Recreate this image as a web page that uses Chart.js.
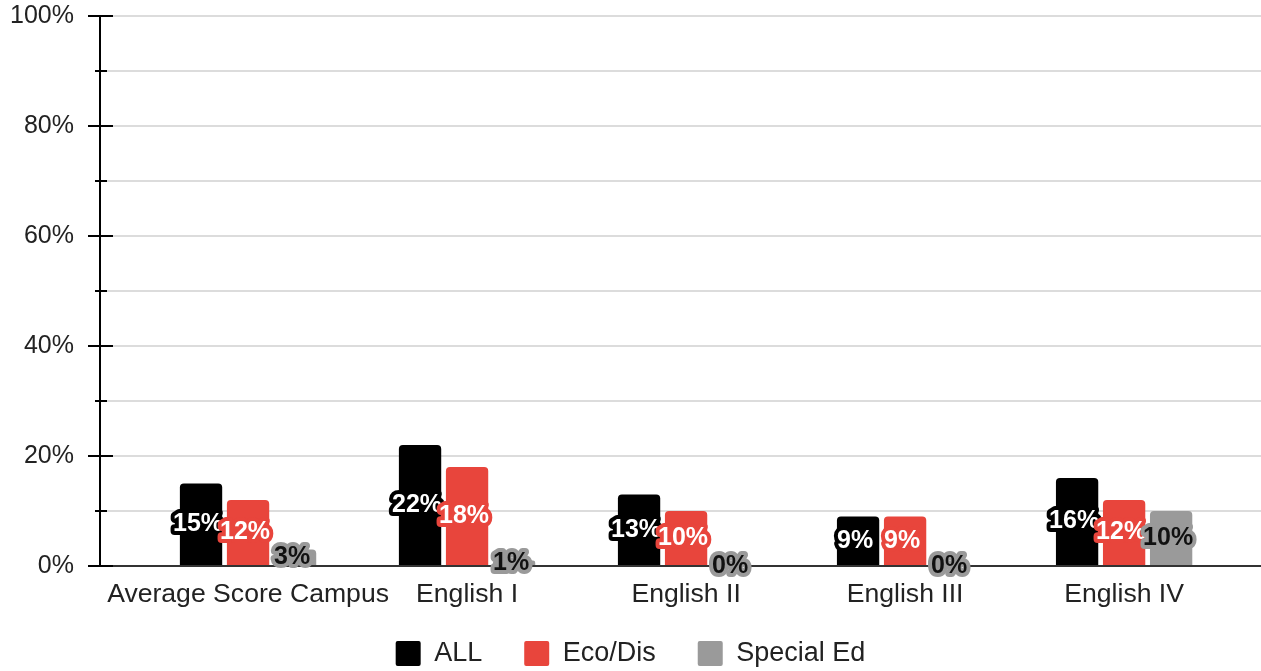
<!DOCTYPE html>
<html>
<head>
<meta charset="utf-8">
<script src="https://cdn.jsdelivr.net/npm/chart.js@4.4.1/dist/chart.umd.min.js"></script>
<style>
  html, body { margin: 0; padding: 0; background: #fff; }
  #wrap { width: 1261px; height: 671px; }
</style>
</head>
<body>
<div id="wrap"><canvas id="chart"></canvas></div>
<script>
const categories = ['Average Score Campus', 'English I', 'English II', 'English III', 'English IV'];
const allValues = [15, 22, 13, 9, 16];
const ecoDisValues = [12, 18, 10, 9, 12];
const specialEdValues = [3, 1, 0, 0, 10];
const seriesNames = ['ALL', 'Eco/Dis', 'Special Ed'];
const yTicks = [0, 20, 40, 60, 80, 100];

const FONT = '"Liberation Sans", Arial, sans-serif';

// label look for each series: text colour + halo colour
const labelStyles = [
    { fill: '#ffffff', stroke: '#000000' },
    { fill: '#ffffff', stroke: '#e8453c' },
    { fill: '#111111', stroke: '#9a9a9a' },
];

function toPoints(values) {
    return values.map((v, i) => ({ x: i, y: v }));
}

// value labels centred in each bar, with a thick outline
const barLabels = {
    id: 'barLabels',
    afterDatasetsDraw(chart) {
        const ctx = chart.ctx;
        ctx.save();
        ctx.font = 'bold 25px ' + FONT;
        ctx.textAlign = 'center';
        ctx.textBaseline = 'middle';
        ctx.lineJoin = 'round';
        chart.data.datasets.forEach((ds, di) => {
            const meta = chart.getDatasetMeta(di);
            const st = labelStyles[di];
            meta.data.forEach((bar, i) => {
                const text = ds.data[i].y + '%';
                const y = (bar.y + bar.base) / 2;
                ctx.lineWidth = 8;
                ctx.strokeStyle = st.stroke;
                ctx.strokeText(text, bar.x - 3, y);
                ctx.fillStyle = st.fill;
                ctx.fillText(text, bar.x - 3, y);
            });
        });
        ctx.restore();
    }
};

// y axis tick marks that cross the axis line
const axisTicks = {
    id: 'axisTicks',
    afterDraw(chart) {
        const y = chart.scales.y;
        const ctx = chart.ctx;
        const x0 = chart.chartArea.left;
        ctx.save();
        ctx.strokeStyle = '#000';
        ctx.lineWidth = 2;
        y.ticks.forEach(t => {
            const py = Math.round(y.getPixelForValue(t.value));
            const major = yTicks.includes(t.value);
            ctx.beginPath();
            ctx.moveTo(major ? x0 - 12 : x0 - 5, py);
            ctx.lineTo(major ? x0 + 13 : x0 + 7, py);
            ctx.stroke();
        });
        ctx.restore();
    }
};

// legend padding is wide for item spacing; pull the legend row up a bit
const legendNudge = {
    id: 'legendNudge',
    afterLayout(chart) {
        chart.legend.top -= 26;
        chart.legend.bottom -= 26;
    }
};

new Chart(document.getElementById('chart'), {
    type: 'bar',
    data: {
        datasets: [
            { label: seriesNames[0], data: toPoints(allValues), backgroundColor: '#000000' },
            { label: seriesNames[1], data: toPoints(ecoDisValues), backgroundColor: '#e8453c' },
            { label: seriesNames[2], data: toPoints(specialEdValues), backgroundColor: '#9a9a9a' },
        ]
    },
    options: {
        responsive: true,
        maintainAspectRatio: false,
        animation: false,
        layout: { padding: { top: 16, right: 0, bottom: -32, left: 0 } },
        datasets: {
            bar: {
                categoryPercentage: 0.644,
                barPercentage: 0.9,
                borderRadius: { topLeft: 4, topRight: 4 },
                borderSkipped: 'start'
            }
        },
        scales: {
            x: {
                type: 'linear',
                offset: false,
                min: -0.676,
                max: 4.625,
                grid: { display: false, drawTicks: false },
                border: { display: true, color: '#333333', width: 2 },
                ticks: {
                    stepSize: 1,
                    includeBounds: false,
                    autoSkip: false,
                    maxRotation: 0,
                    padding: 13,
                    color: '#222',
                    font: { family: FONT, size: 26.6 },
                    callback: v => Number.isInteger(v) ? categories[v] : ''
                }
            },
            y: {
                min: 0,
                max: 100,
                afterFit: s => { s.width = 100; s.paddingTop = 0; s.paddingBottom = 0; },
                grid: { color: '#dcdcdc', lineWidth: 2, drawTicks: false },
                border: { display: true, color: '#000', width: 2 },
                ticks: {
                    stepSize: 10,
                    padding: 26,
                    color: '#222',
                    font: { family: FONT, size: 25 },
                    callback: v => yTicks.includes(v) ? v + '%' : ''
                }
            }
        },
        plugins: {
            legend: {
                position: 'bottom',
                labels: {
                    boxWidth: 25,
                    boxHeight: 25,
                    padding: 42,
                    color: '#222',
                    font: { family: FONT, size: 27 },
                    useBorderRadius: true,
                    borderRadius: 2
                }
            },
            tooltip: { enabled: false }
        }
    },
    plugins: [barLabels, axisTicks, legendNudge]
});
</script>
</body>
</html>
